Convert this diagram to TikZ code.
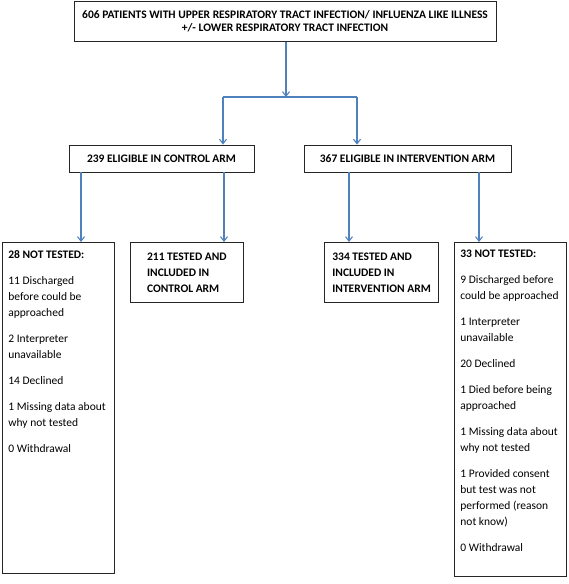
\documentclass[tikz,border=0pt]{standalone}
\usepackage{fontspec}
\setmainfont{Carlito}
\usetikzlibrary{arrows.meta}
\definecolor{flowblue}{RGB}{79,129,189}
\tikzset{
  box/.style={draw=black!85, line width=0.8pt, inner sep=0pt, font=\fontsize{11.5}{16}\selectfont},
  headbox/.style={box, align=center, font=\fontsize{11.5}{13}\selectfont\bfseries},
  flow/.style={draw=flowblue, line width=1.1pt, -{Straight Barb[length=4.5pt,width=7pt]}},
  flowline/.style={draw=flowblue, line width=1.1pt},
}
\newcommand{\gap}{\par\vspace{10pt}}
\begin{document}
\begin{tikzpicture}[x=1pt,y=-1pt]
    \useasboundingbox (0,0) rectangle (568,584);
    % boxes
    \node[headbox, minimum width=422, minimum height=40] (all) at (285,21.5)
        {606 PATIENTS WITH UPPER RESPIRATORY TRACT INFECTION/ INFLUENZA LIKE ILLNESS\\
         +/- LOWER RESPIRATORY TRACT INFECTION};
    \node[headbox, minimum width=185, minimum height=27] (ctrl) at (161.5,158.5)
        {239 ELIGIBLE IN CONTROL ARM};
    \node[headbox, minimum width=207, minimum height=27] (intv) at (407.5,158.5)
        {367 ELIGIBLE IN INTERVENTION ARM};
    \node[box, anchor=north west, inner xsep=6pt, inner ysep=8pt] (ctrlout) at (2,242)
        {\parbox[t][315pt][t]{100pt}{\raggedright
         \textbf{28 NOT TESTED:}\gap
         11 Discharged\\ before could be\\ approached\gap
         2 Interpreter\\ unavailable\gap
         14 Declined\gap
         1 Missing data about\\ why not tested\gap
         0 Withdrawal}};
    \node[box, anchor=north west, minimum width=113, minimum height=60, inner xsep=8pt,
          align=left, font=\fontsize{11.5}{16}\selectfont\bfseries] (ctrlin) at (130,242)
        {211 TESTED AND\\ INCLUDED IN\\ CONTROL ARM};
    \node[box, anchor=north west, minimum width=114, minimum height=60, inner xsep=8pt,
          align=left, font=\fontsize{11.5}{16}\selectfont\bfseries] (intvin) at (324,242)
        {334 TESTED AND\\ INCLUDED IN\\ INTERVENTION ARM};
    \node[box, anchor=north west, inner xsep=6pt, inner ysep=8pt] (intvout) at (454,242)
        {\parbox[t][318pt][t]{100pt}{\raggedright
         \textbf{33 NOT TESTED:}\gap
         9 Discharged before\\ could be approached\gap
         1 Interpreter\\ unavailable\gap
         20 Declined\gap
         1 Died before being\\ approached\gap
         1 Missing data about\\ why not tested\gap
         1 Provided consent\\ but test was not\\ performed (reason\\ not know)\gap
         0 Withdrawal}};
    % split points and arrow columns
    \coordinate (split) at (286,97);
    \coordinate (splitL) at (223,97);
    \coordinate (splitR) at (357,97);
    \coordinate (c1) at (81,0);
    \coordinate (c2) at (224,0);
    \coordinate (c3) at (349,0);
    \coordinate (c4) at (479,0);
    % connectors
    \draw[flow] (all.south -| split) -- (split);
    \draw[flowline] (splitL) -- (splitR);
    \draw[flow] (splitL) -- (splitL |- ctrl.north);
    \draw[flow] (splitR) -- (splitR |- intv.north);
    \draw[flow] (ctrl.south -| c1) -- (ctrlout.north -| c1);
    \draw[flow] (ctrl.south -| c2) -- (ctrlin.north -| c2);
    \draw[flow] (intv.south -| c3) -- (intvin.north -| c3);
    \draw[flow] (intv.south -| c4) -- (intvout.north -| c4);
\end{tikzpicture}
\end{document}
